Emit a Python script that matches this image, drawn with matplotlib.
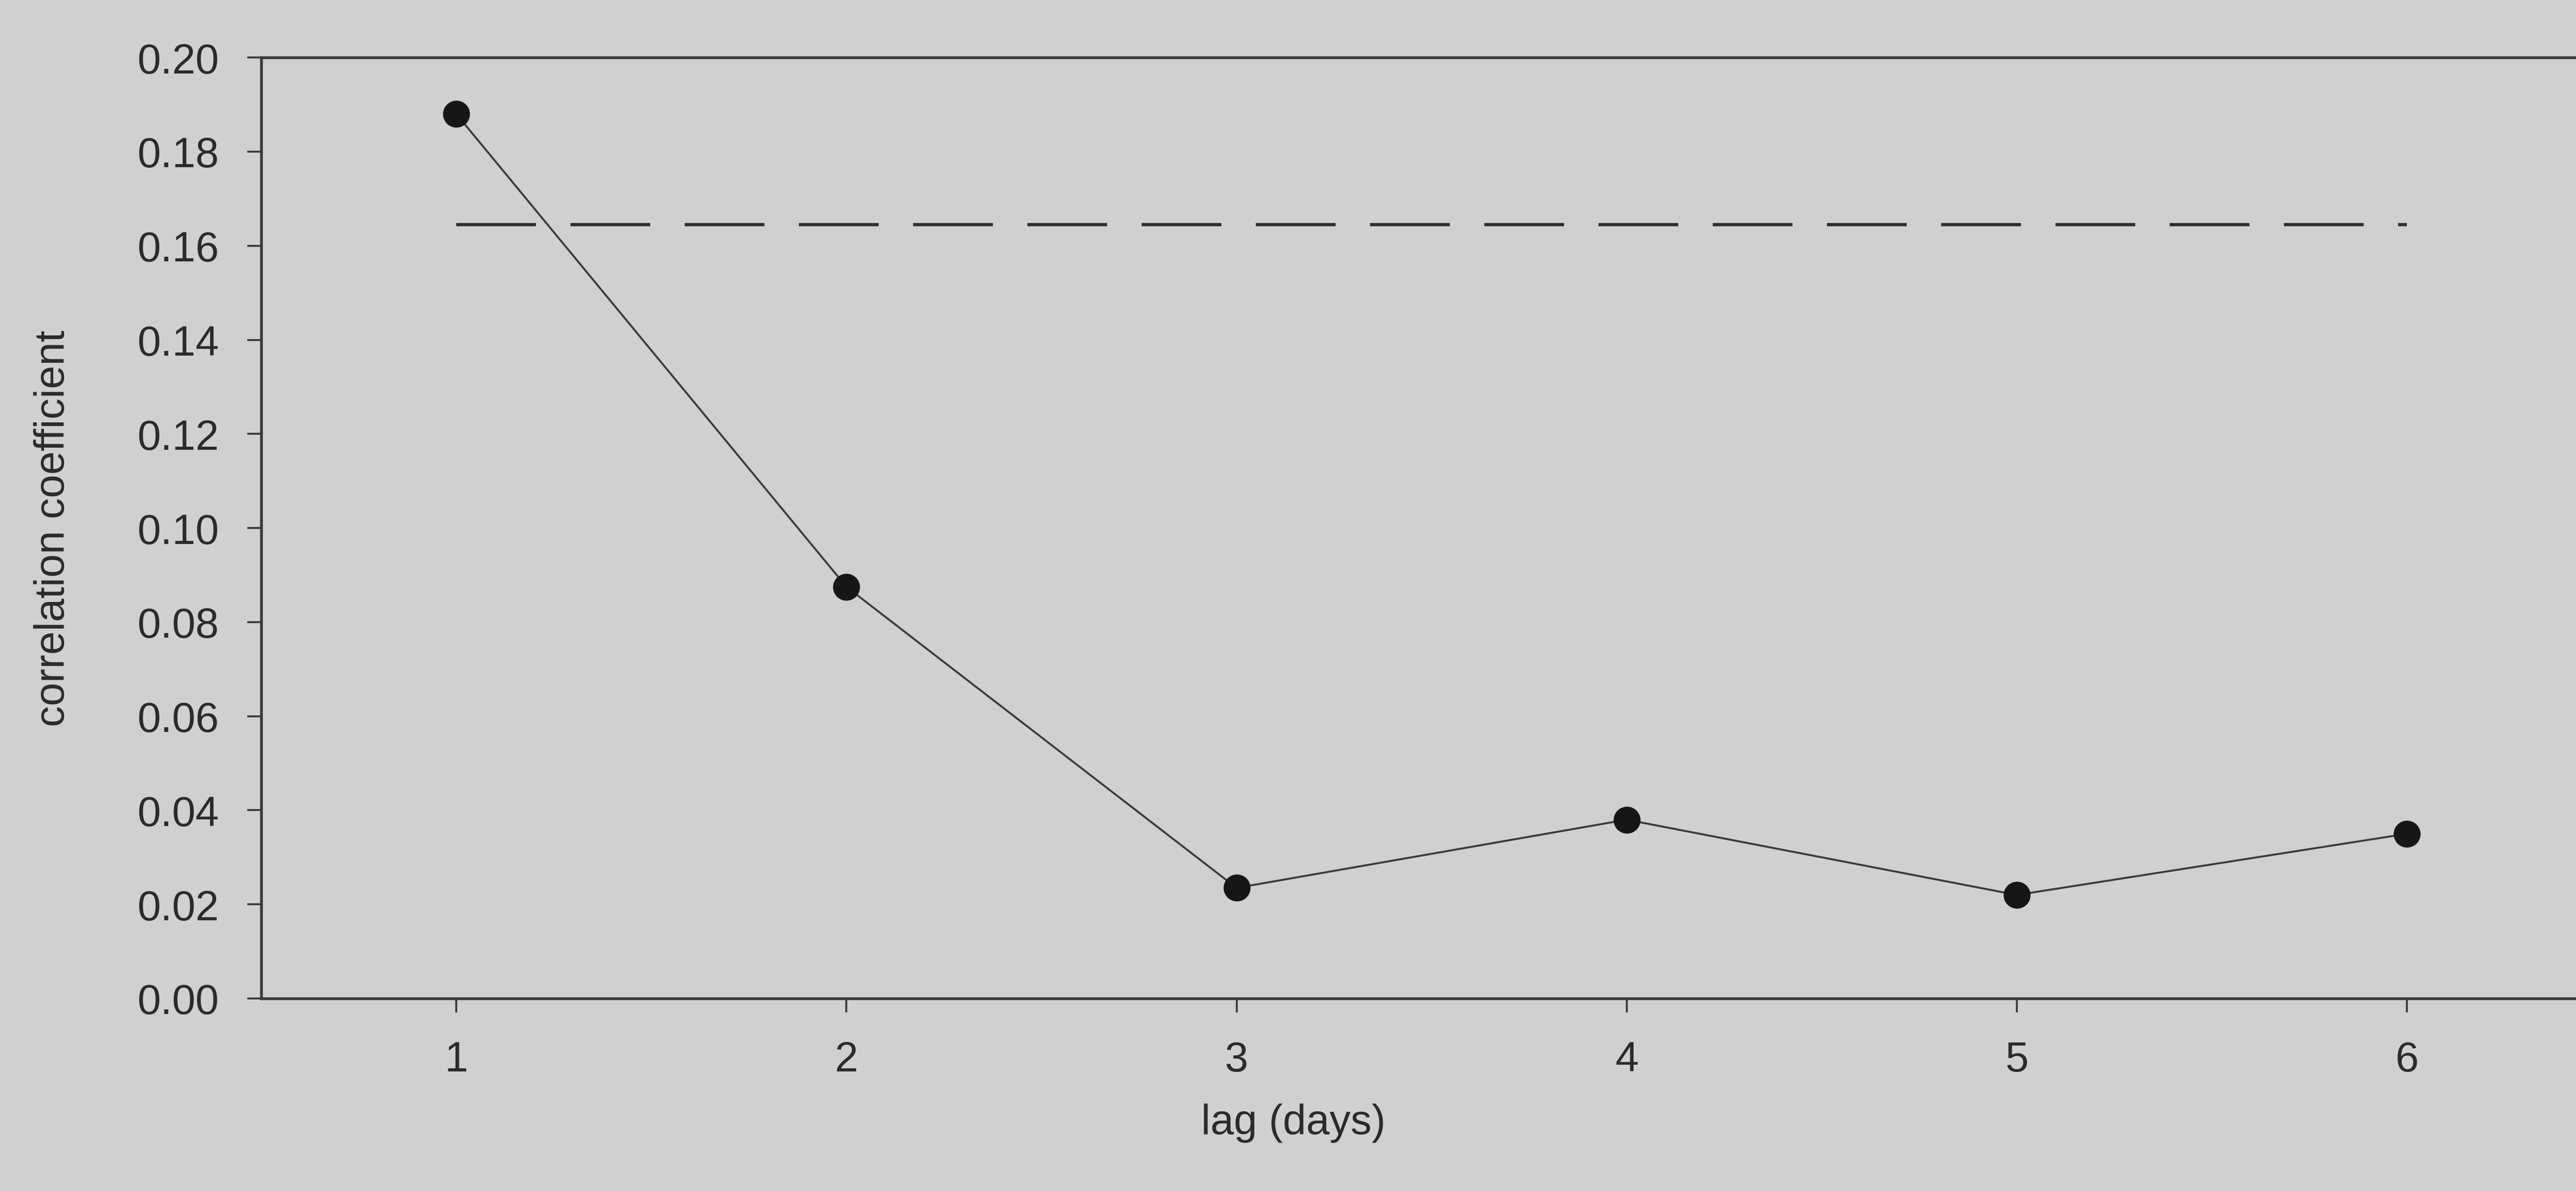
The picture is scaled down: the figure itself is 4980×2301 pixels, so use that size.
import matplotlib.pyplot as plt

# lag correlation values
lags = [1, 2, 3, 4, 5, 6]
corr = [0.188, 0.0875, 0.0235, 0.038, 0.022, 0.035]
threshold = 0.1645

bg = "#d0d0d0"
ink = "#2b2b2b"

plt.rcParams["font.family"] = ["Liberation Sans", "DejaVu Sans"]
plt.rcParams["lines.scale_dashes"] = False

fig = plt.figure(figsize=(16.603, 7.673), dpi=300, facecolor=bg)
# axes run past the right edge of the figure
ax = fig.add_axes([0.1014, 0.1616, 0.9085, 0.7897], facecolor=bg)

ax.plot(lags, corr, color="#3a3a3a", lw=0.9, marker="o", ms=11.5,
        mfc="#161616", mec="#161616", zorder=3)
ax.plot([lags[0], lags[-1]], [threshold, threshold], color="#2e2e2e",
        lw=1.5, linestyle=(0, (37, 16)), zorder=2)

ax.set_xlim(0.5, 6.5)
ax.set_ylim(0, 0.2)
ax.set_xticks(lags)
ax.set_yticks([i * 0.02 for i in range(11)])
ax.yaxis.set_major_formatter(plt.FormatStrFormatter("%.2f"))

for side in ["left", "bottom", "top"]:
    ax.spines[side].set_color("#3a3a3a")
    ax.spines[side].set_linewidth(1.3)
ax.spines["right"].set_visible(False)

ax.tick_params(direction="out", length=6.5, width=0.9, color="#3a3a3a",
               labelsize=19.5, labelcolor=ink, pad=13)

ax.set_ylabel("correlation coefficient", fontsize=19.5, color=ink, labelpad=30)
ax.set_xlabel("lag (days)", fontsize=19.5, color=ink)
ax.xaxis.set_label_coords(0.441, -0.132)
ax.xaxis.label.set_va("center")

fig.savefig("out.png", facecolor=bg)
